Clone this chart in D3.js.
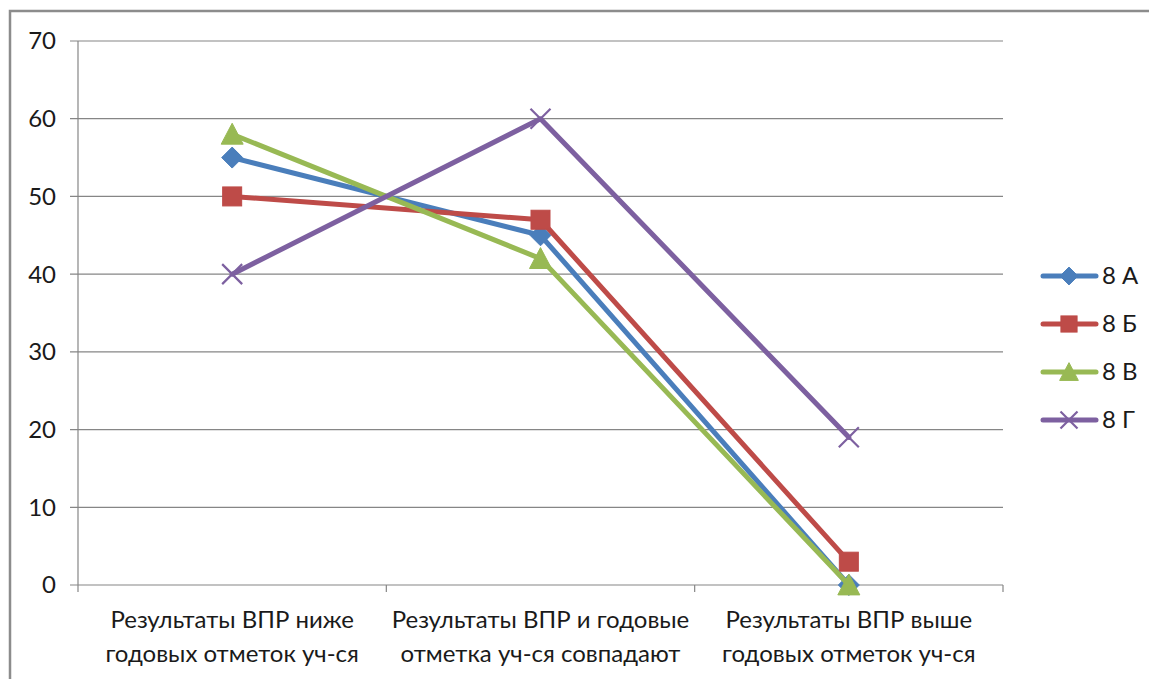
<!DOCTYPE html>
<html>
<head>
<meta charset="utf-8">
<script src="https://cdn.jsdelivr.net/npm/d3@7"></script>
<style>
  html, body { margin: 0; padding: 0; background: #fff; }
  svg { display: block; font-family: Lato, "Open Sans", "Liberation Sans", sans-serif; }
</style>
</head>
<body>
<svg id="chart" width="1149" height="679"></svg>
<script>
// Categories (two-line labels)
const categories = [
  ["Результаты ВПР ниже", "годовых отметок уч-ся"],
  ["Результаты ВПР и годовые", "отметка уч-ся совпадают"],
  ["Результаты ВПР выше", "годовых отметок уч-ся"]
];
const seriesNames = ["8 А", "8 Б", "8 В", "8 Г"];
const values8A = [55, 45, 0];
const values8B = [50, 47, 3];
const values8V = [58, 42, 0];
const values8G = [40, 60, 19];
const yTicks = [0, 10, 20, 30, 40, 50, 60, 70];

const colors = ["#4A7EBB", "#BE4B48", "#98B954", "#7D60A0"];
const markers = ["diamond", "square", "triangle", "cross"];
const series = [values8A, values8B, values8V, values8G].map((v, i) => ({
  name: seriesNames[i], values: v, color: colors[i], marker: markers[i]
}));

const svg = d3.select("#chart");
const plot = { left: 78, right: 1003, top: 41, bottom: 585 };
const fontSize = 24;

// Outer frame
svg.append("rect")
  .attr("x", 10).attr("y", 11).attr("width", 1160).attr("height", 700)
  .attr("fill", "none").attr("stroke", "#8c8c8c").attr("stroke-width", 2.5);

const x = d3.scaleBand().domain(d3.range(categories.length))
  .range([plot.left, plot.right]).padding(0);
const y = d3.scaleLinear().domain([0, 70]).range([plot.bottom, plot.top]);
const cx = i => x(i) + x.bandwidth() / 2;

// Gridlines
svg.append("g").selectAll("line").data(yTicks).join("line")
  .attr("x1", plot.left - 8).attr("x2", plot.right)
  .attr("y1", d => y(d)).attr("y2", d => y(d))
  .attr("stroke", "#868686").attr("stroke-width", 1.2);

// Y axis line
svg.append("line")
  .attr("x1", plot.left).attr("x2", plot.left)
  .attr("y1", plot.top).attr("y2", plot.bottom)
  .attr("stroke", "#868686").attr("stroke-width", 1.2);

// Y tick labels
svg.append("g").selectAll("text").data(yTicks).join("text")
  .attr("x", 56).attr("y", d => y(d))
  .attr("dy", "0.35em").attr("text-anchor", "end")
  .attr("font-size", fontSize).attr("fill", "#1a1a1a")
  .text(d => d);

// X category ticks
const xTickPos = d3.range(categories.length + 1).map(i => i < categories.length ? x(i) : plot.right);
svg.append("g").selectAll("line").data(xTickPos).join("line")
  .attr("x1", d => d).attr("x2", d => d)
  .attr("y1", plot.bottom).attr("y2", plot.bottom + 7)
  .attr("stroke", "#868686").attr("stroke-width", 1.2);

// Category labels
const catG = svg.append("g");
categories.forEach((lines, i) => {
  lines.forEach((t, j) => {
    catG.append("text")
      .attr("x", cx(i)).attr("y", 628 + j * 34)
      .attr("text-anchor", "middle")
      .attr("font-size", fontSize).attr("fill", "#1a1a1a")
      .text(t);
  });
});

// Marker drawing
function drawMarker(g, type, px, py, color, scale = 1) {
  if (type === "diamond") {
    const s = 10.5 * scale;
    g.append("path").attr("d", `M${px},${py - s}L${px + s},${py}L${px},${py + s}L${px - s},${py}Z`)
      .attr("fill", color).attr("stroke", color).attr("stroke-width", 1);
  } else if (type === "square") {
    const s = 9.5 * scale;
    g.append("rect").attr("x", px - s).attr("y", py - s).attr("width", 2 * s).attr("height", 2 * s)
      .attr("fill", color).attr("stroke", color).attr("stroke-width", 1);
  } else if (type === "triangle") {
    const s = 11 * scale;
    g.append("path").attr("d", `M${px},${py - s}L${px + s},${py + s * 0.9}L${px - s},${py + s * 0.9}Z`)
      .attr("fill", color).attr("stroke", color).attr("stroke-width", 1);
  } else if (type === "cross") {
    const s = 10 * scale;
    g.append("path").attr("d", `M${px - s},${py - s}L${px + s},${py + s}M${px - s},${py + s}L${px + s},${py - s}`)
      .attr("fill", "none").attr("stroke", color).attr("stroke-width", 2.2);
  }
}

// Lines and markers
const line = d3.line().x((d, i) => cx(i)).y(d => y(d));
series.forEach(s => {
  const g = svg.append("g");
  g.append("path").datum(s.values).attr("d", line)
    .attr("fill", "none").attr("stroke", s.color)
    .attr("stroke-width", 5).attr("stroke-linejoin", "round").attr("stroke-linecap", "round");
  s.values.forEach((v, i) => drawMarker(g, s.marker, cx(i), y(v), s.color));
});

// Legend
const legY = d3.scaleLinear().domain([0, 3]).range([276, 420]);
const leg = svg.append("g");
series.forEach((s, i) => {
  const ly = legY(i);
  leg.append("line").attr("x1", 1043).attr("x2", 1096).attr("y1", ly).attr("y2", ly)
    .attr("stroke", s.color).attr("stroke-width", 5).attr("stroke-linecap", "round");
  drawMarker(leg, s.marker, 1069, ly, s.color, 0.85);
  leg.append("text").attr("x", 1102).attr("y", ly).attr("dy", "0.35em")
    .attr("font-size", fontSize).attr("fill", "#1a1a1a").text(s.name);
});
</script>
</body>
</html>
